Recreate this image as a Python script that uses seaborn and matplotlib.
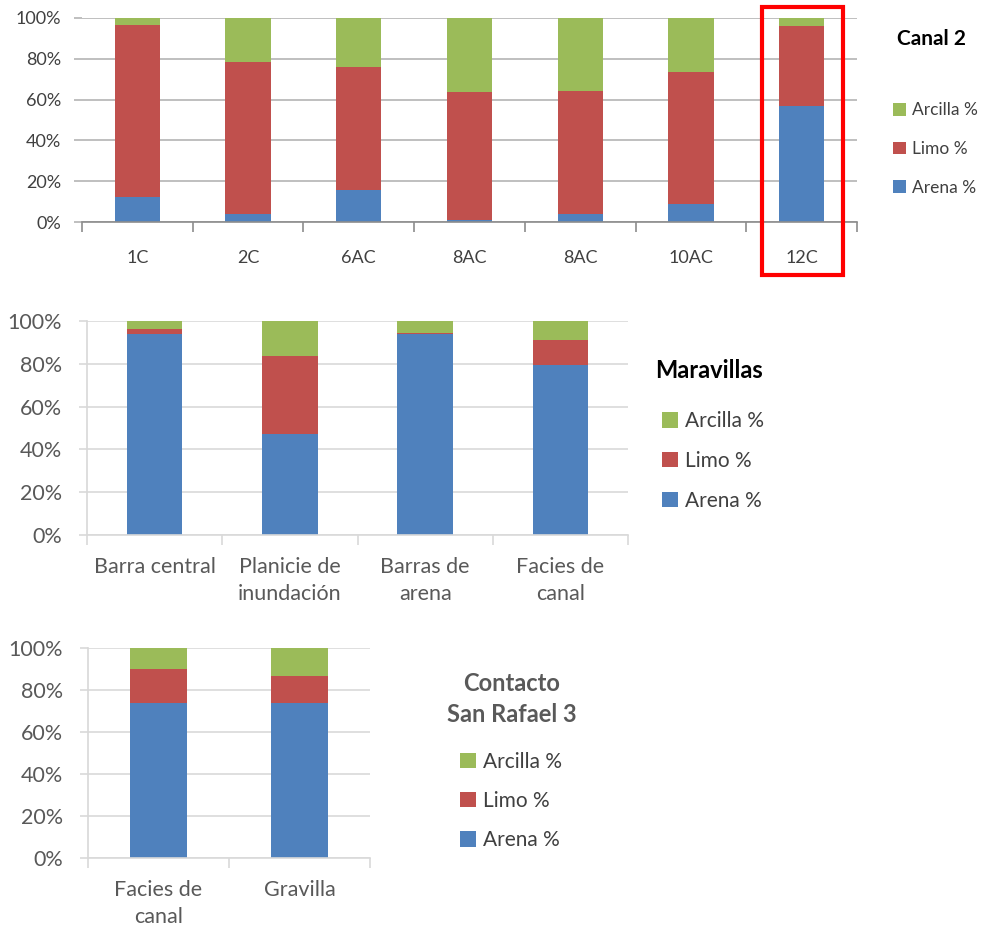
import matplotlib
matplotlib.use('Agg')
import matplotlib.pyplot as plt
import matplotlib.transforms as mtransforms
from matplotlib.patches import Rectangle, Patch
import seaborn as sns
import pandas as pd
import numpy as np

sns.set_theme(style='white')
plt.rcParams['font.family'] = ['Lato', 'DejaVu Sans']

# ---------------- data ----------------
canal_cats = ['1C', '2C', '6AC', '8AC', '8AC', '10AC', '12C']
canal_arena = [12.2, 3.8, 15.5, 1.0, 3.9, 9.0, 56.9]
canal_limo = [84.5, 74.5, 60.7, 62.6, 60.2, 64.4, 39.2]
canal_arcilla = [3.3, 21.7, 23.8, 36.4, 35.9, 26.6, 3.9]

mara_cats = ['Barra central', 'Planicie de\ninundación', 'Barras de\narena', 'Facies de\ncanal']
mara_arena = [94.1, 47.1, 94.1, 79.6]
mara_limo = [2.2, 36.4, 0.2, 11.4]
mara_arcilla = [3.7, 16.5, 5.7, 9.0]

sr_cats = ['Facies de\ncanal', 'Gravilla']
sr_arena = [73.7, 73.7]
sr_limo = [16.4, 12.8]
sr_arcilla = [9.9, 13.5]

series_labels = ['Arena %', 'Limo %', 'Arcilla %']
y_ticks = [0, 20, 40, 60, 80, 100]

BLUE = '#4F81BD'
RED = '#C0504D'
GREEN = '#9BBB59'

W, H = 989, 930
fig = plt.figure(figsize=(W / 100, H / 100), dpi=100)


def px_axes(x0, x1, y0, y1):
    return fig.add_axes([x0 / W, 1 - y1 / H, (x1 - x0) / W, (y1 - y0) / H])


def stacked(ax, cats, arena, limo, arcilla, grid_c, axis_c, text_c, fs,
            left_spine, ypad, xpad, linesp):
    n = len(cats)
    a = np.array(arena)
    l = np.array(limo)
    c = np.array(arcilla)
    df = pd.DataFrame({'pos': np.arange(n), 'arena': a, 'al': a + l, 'tot': a + l + c})
    for col, color in [('tot', GREEN), ('al', RED), ('arena', BLUE)]:
        sns.barplot(data=df, x='pos', y=col, color=color, saturation=1, width=0.41,
                    edgecolor='none', linewidth=0, ax=ax)
    ax.set_xlabel('')
    ax.set_ylabel('')
    ax.set_ylim(0, 100)
    ax.set_xlim(-0.5, n - 0.5)
    ax.set_yticks(y_ticks)
    ax.set_yticklabels([f'{v}%' for v in y_ticks])
    ax.set_xticks(np.arange(n))
    ax.set_xticklabels(cats)
    ax.set_xticks(np.arange(-0.5, n, 1), minor=True)
    ax.yaxis.grid(True, color=grid_c, lw=1.2)
    ax.set_axisbelow(True)
    for s in ['top', 'right']:
        ax.spines[s].set_visible(False)
    ax.spines['left'].set_visible(left_spine)
    ax.spines['left'].set_color(grid_c)
    ax.spines['bottom'].set_color(axis_c)
    ax.spines['bottom'].set_linewidth(1.2)
    ax.tick_params(axis='x', which='major', length=0, pad=xpad, labelsize=fs, labelcolor=text_c, bottom=True)
    ax.tick_params(axis='x', which='minor', length=7, width=1.2, color=axis_c, bottom=True, direction='out')
    ax.tick_params(axis='y', which='major', length=6, width=1.2, color=grid_c, pad=ypad, labelsize=fs,
                   labelcolor=text_c, left=True, direction='out')
    for t in ax.get_xticklabels():
        t.set_linespacing(linesp)
        t.set_verticalalignment('top')


def legend(x_left, y_center, fs, spacing):
    handles = [Patch(facecolor=GREEN, edgecolor='none', label=series_labels[2]),
               Patch(facecolor=RED, edgecolor='none', label=series_labels[1]),
               Patch(facecolor=BLUE, edgecolor='none', label=series_labels[0])]
    lg = fig.legend(handles=handles, loc='center left', bbox_to_anchor=(x_left / W, 1 - y_center / H),
                    bbox_transform=fig.transFigure, frameon=False, fontsize=fs,
                    handlelength=0.75, handleheight=0.75, handletextpad=0.35,
                    labelspacing=spacing, borderpad=0, borderaxespad=0)
    for t in lg.get_texts():
        t.set_color('#404040')
    return lg


# ---------- Canal 2 ----------
ax1 = px_axes(82, 857, 18, 222)
stacked(ax1, canal_cats, canal_arena, canal_limo, canal_arcilla,
        grid_c='#b4b4b4', axis_c='#8c8c8c', text_c='#404040', fs=13,
        left_spine=False, ypad=9, xpad=20, linesp=1.2)
idx = len(canal_cats) - 1
trans = mtransforms.blended_transform_factory(ax1.transData, ax1.transAxes)
ax1.add_patch(Rectangle((idx - 0.355, -0.26), 0.73, 1.315, transform=trans, fill=False,
                        edgecolor='#FF0000', lw=3, clip_on=False, zorder=10))
fig.text(897 / W, 1 - 39 / H, 'Canal 2', fontsize=15, fontweight='bold', color='#000000',
         ha='left', va='center')
legend(893, 149, 12.5, 1.3)

# ---------- Maravillas ----------
ax2 = px_axes(87, 628, 321, 535)
stacked(ax2, mara_cats, mara_arena, mara_limo, mara_arcilla,
        grid_c='#d9d9d9', axis_c='#d9d9d9', text_c='#595959', fs=15.5,
        left_spine=True, ypad=12, xpad=16, linesp=1.4)
fig.text(655 / W, 1 - 370 / H, 'Maravillas', fontsize=17, fontweight='bold', color='#000000',
         ha='left', va='center')
legend(662, 461, 15, 0.95)

# ---------- Contacto San Rafael 3 ----------
ax3 = px_axes(88, 370, 648, 858)
stacked(ax3, sr_cats, sr_arena, sr_limo, sr_arcilla,
        grid_c='#d9d9d9', axis_c='#d9d9d9', text_c='#595959', fs=15.5,
        left_spine=True, ypad=12, xpad=16, linesp=1.4)
fig.text(512 / W, 1 - 699 / H, 'Contacto\nSan Rafael 3', fontsize=17, fontweight='bold',
         color='#595959', ha='center', va='center', linespacing=1.45)
legend(460, 801, 15, 0.93)

fig.savefig('out.png', dpi=100)
